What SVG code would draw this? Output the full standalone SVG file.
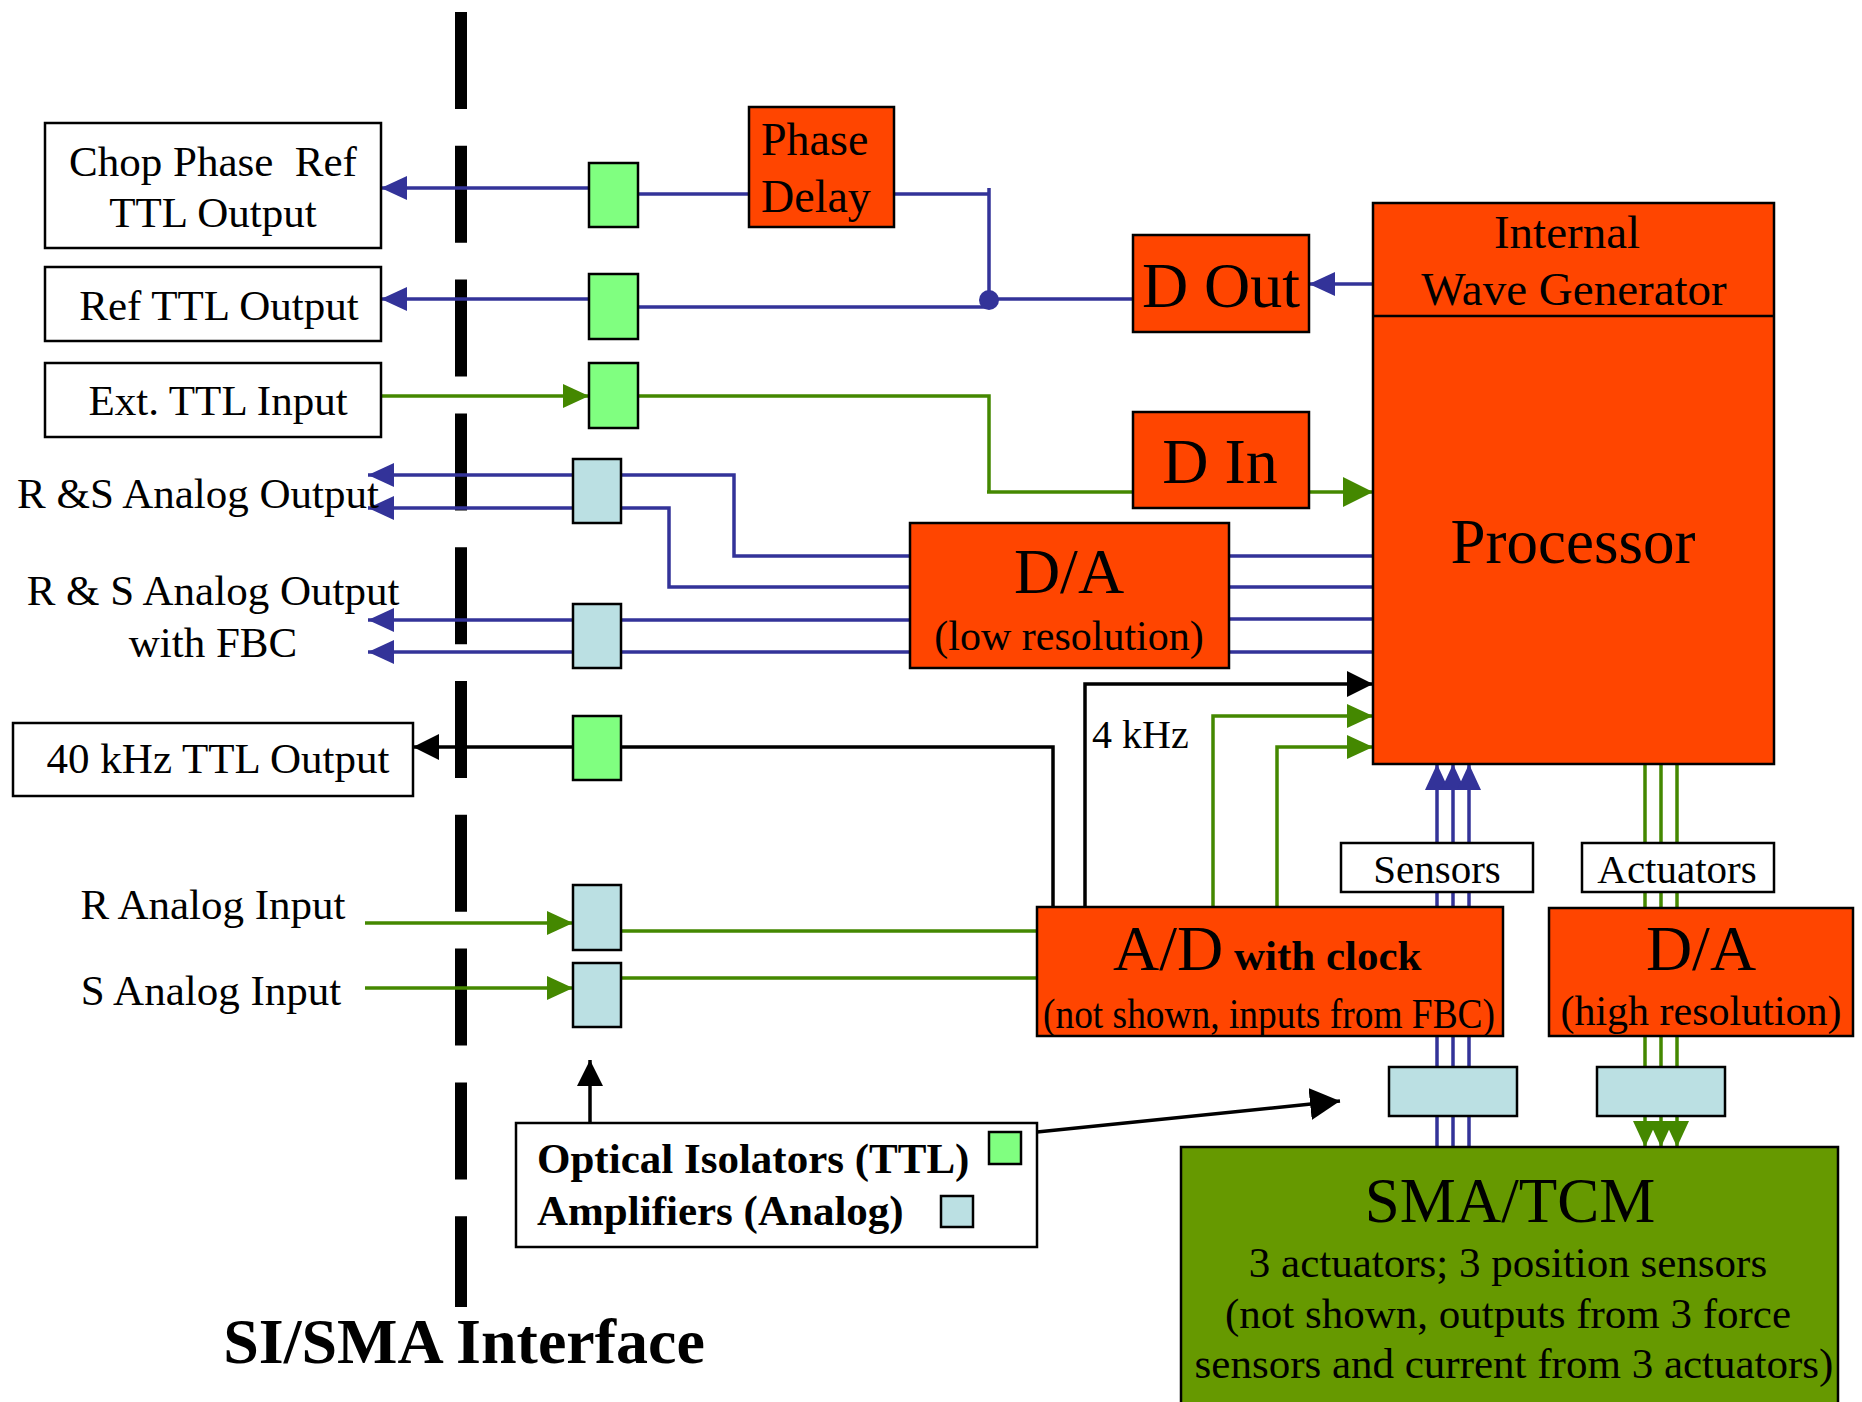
<svg xmlns="http://www.w3.org/2000/svg" width="1862" height="1402" viewBox="0 0 1862 1402">
<style>
text{font-family:"Liberation Serif","Times New Roman",serif;fill:#000;white-space:pre}
.box{fill:#fff;stroke:#000;stroke-width:2.5}
.blk{fill:#FF4500;stroke:#000;stroke-width:2.5}
.iso{fill:#80FF80;stroke:#000;stroke-width:2.5}
.amp{fill:#BBE0E3;stroke:#000;stroke-width:2.5}
.b{fill:none;stroke:#333399;stroke-width:3.5}
.g{fill:none;stroke:#448800;stroke-width:3.5}
.k{fill:none;stroke:#000;stroke-width:3.5}
.t43{font-size:43px}
.t41{font-size:41px}
.t46{font-size:46px}
.t64{font-size:64px}
.mid{text-anchor:middle}
</style>
<defs>
<marker id="ab" markerUnits="userSpaceOnUse" markerWidth="26" markerHeight="24" refX="26" refY="12" orient="auto"><path d="M0,0 L26,12 L0,24 z" fill="#333399"/></marker>
<marker id="ag" markerUnits="userSpaceOnUse" markerWidth="26" markerHeight="24" refX="26" refY="12" orient="auto"><path d="M0,0 L26,12 L0,24 z" fill="#448800"/></marker>
<marker id="agB" markerUnits="userSpaceOnUse" markerWidth="30" markerHeight="30" refX="30" refY="15" orient="auto"><path d="M0,0 L30,15 L0,30 z" fill="#448800"/></marker>
<marker id="ak" markerUnits="userSpaceOnUse" markerWidth="26" markerHeight="26" refX="26" refY="13" orient="auto"><path d="M0,0 L26,13 L0,26 z" fill="#000"/></marker>
<marker id="akB" markerUnits="userSpaceOnUse" markerWidth="30" markerHeight="32" refX="30" refY="16" orient="auto"><path d="M0,0 L30,16 L0,32 z" fill="#000"/></marker>
</defs>
<rect width="1862" height="1402" fill="#fff"/>

<g id="interface-line">
<line x1="461" y1="12" x2="461" y2="1307" stroke="#000" stroke-width="12" stroke-dasharray="97 36.8"/>
<text x="464" y="1363" text-anchor="middle" font-size="64" font-weight="bold">SI/SMA Interface</text>
</g>

<g id="connectors">
<path class="b" d="M589,188 H381" marker-end="url(#ab)"/>
<path class="b" d="M638,194 H749"/>
<path class="b" d="M894,194 H989 M989,188 V299"/>
<path class="b" d="M589,299 H381" marker-end="url(#ab)"/>
<path class="b" d="M638,307 H989"/>
<path class="b" d="M989,299 H1133"/>
<circle cx="989" cy="300" r="10" fill="#333399"/>
<path class="b" d="M1373,284 H1309" marker-end="url(#ab)"/>
<path class="g" d="M381,396 H589" marker-end="url(#ag)"/>
<path class="g" d="M638,396 H989 V492"/>
<path class="g" d="M987,492 H1133" stroke-width="6"/>
<path class="g" d="M1309,492 H1373" stroke-width="6" marker-end="url(#agB)"/>
<path class="b" d="M573,475 H368" marker-end="url(#ab)"/>
<path class="b" d="M573,508 H368" marker-end="url(#ab)"/>
<path class="b" d="M621,475 H734 V556 H910"/>
<path class="b" d="M621,508 H669 V587 H910"/>
<path class="b" d="M573,620 H368" marker-end="url(#ab)"/>
<path class="b" d="M573,652 H368" marker-end="url(#ab)"/>
<path class="b" d="M621,620 H910 M621,652 H910"/>
<path class="b" d="M1229,556 H1373 M1229,587 H1373 M1229,619 H1373 M1229,652 H1373"/>
<path class="k" d="M573,747 H413" marker-end="url(#ak)"/>
<path class="k" d="M621,747 H1053 V908"/>
<path class="k" d="M1085,908 V684 H1373" marker-end="url(#ak)"/>
<path class="g" d="M1213,908 V716 H1373" marker-end="url(#ag)"/>
<path class="g" d="M1277,908 V747 H1373" marker-end="url(#ag)"/>
<path class="g" d="M365,923 H573" marker-end="url(#ag)"/>
<path class="g" d="M365,988 H573" marker-end="url(#ag)"/>
<path class="g" d="M621,931 H1037 M621,978 H1037"/>
<path class="b" d="M1437,908 V764" marker-end="url(#ab)"/>
<path class="b" d="M1453,908 V764" marker-end="url(#ab)"/>
<path class="b" d="M1469,908 V764" marker-end="url(#ab)"/>
<path class="g" d="M1645,764 V908 M1661,764 V908 M1677,764 V908"/>
<path class="b" d="M1437,1036 V1147 M1453,1036 V1147 M1469,1036 V1147"/>
<path class="g" d="M1645,1036 V1116 M1661,1036 V1116 M1677,1036 V1116"/>
<path class="g" d="M1645,1116 V1147" marker-end="url(#ag)"/>
<path class="g" d="M1661,1116 V1147" marker-end="url(#ag)"/>
<path class="g" d="M1677,1116 V1147" marker-end="url(#ag)"/>
<path class="k" d="M590,1123 V1060" stroke-width="3" marker-end="url(#ak)"/>
<path class="k" d="M1037,1132 L1340,1101" stroke-width="5" marker-end="url(#akB)"/>
</g>

<g id="chop-phase-ref">
<rect class="box" x="45" y="123" width="336" height="125"/>
<text class="t43 mid" x="213" y="176">Chop Phase  Ref</text>
<text class="t43 mid" x="213" y="227">TTL Output</text>
</g>
<g id="ref-ttl-output">
<rect class="box" x="45" y="267" width="336" height="74"/>
<text class="t43 mid" x="219" y="320">Ref TTL Output</text>
</g>
<g id="ext-ttl-input">
<rect class="box" x="45" y="363" width="336" height="74"/>
<text class="t43 mid" x="218" y="415">Ext. TTL Input</text>
</g>
<g id="rs-analog-output">
<text class="t43 mid" x="198" y="508">R &amp;S Analog Output</text>
</g>
<g id="rs-analog-output-fbc">
<text class="t43 mid" x="213" y="605">R &amp; S Analog Output</text>
<text class="t43 mid" x="213" y="657">with FBC</text>
</g>
<g id="ttl-40khz-output">
<rect class="box" x="13" y="723" width="400" height="73"/>
<text class="t43 mid" x="218" y="773">40 kHz TTL Output</text>
</g>
<g id="r-analog-input">
<text class="t43 mid" x="213" y="919">R Analog Input</text>
</g>
<g id="s-analog-input">
<text class="t43 mid" x="211" y="1005">S Analog Input</text>
</g>

<g id="isolators">
<rect class="iso" x="589" y="163" width="49" height="64"/>
<rect class="iso" x="589" y="274" width="49" height="65"/>
<rect class="iso" x="589" y="363" width="49" height="65"/>
<rect class="amp" x="573" y="459" width="48" height="64"/>
<rect class="amp" x="573" y="604" width="48" height="64"/>
<rect class="iso" x="573" y="716" width="48" height="64"/>
<rect class="amp" x="573" y="885" width="48" height="65"/>
<rect class="amp" x="573" y="963" width="48" height="64"/>
<rect class="amp" x="1389" y="1067" width="128" height="49"/>
<rect class="amp" x="1597" y="1067" width="128" height="49"/>
</g>

<g id="phase-delay">
<rect class="blk" x="749" y="107" width="145" height="120"/>
<text class="t46" x="761" y="155">Phase</text>
<text class="t46" x="761" y="212">Delay</text>
</g>
<g id="d-out">
<rect class="blk" x="1133" y="235" width="176" height="97"/>
<text class="t64 mid" x="1221" y="307">D Out</text>
</g>
<g id="d-in">
<rect class="blk" x="1133" y="412" width="176" height="96"/>
<text class="t64 mid" x="1220" y="483">D In</text>
</g>
<g id="processor">
<rect class="blk" x="1373" y="203" width="401" height="561"/>
<line x1="1373" y1="316" x2="1774" y2="316" stroke="#000" stroke-width="2.5"/>
<text class="mid" x="1567" y="248" font-size="47">Internal</text>
<text class="mid" x="1574" y="305" font-size="47">Wave Generator</text>
<text class="mid" x="1573" y="563" font-size="63">Processor</text>
</g>
<g id="da-low">
<rect class="blk" x="910" y="523" width="319" height="145"/>
<text class="t64 mid" x="1069" y="593">D/A</text>
<text class="mid" x="1069" y="650" font-size="42">(low resolution)</text>
</g>
<g id="ad-clock">
<rect class="blk" x="1037" y="907" width="466" height="129"/>
<text x="1113" y="970"><tspan font-size="64">A/D</tspan><tspan font-size="43" font-weight="bold"> with clock</tspan></text>
<text x="1043" y="1028" font-size="42" textLength="452" lengthAdjust="spacingAndGlyphs">(not shown, inputs from FBC)</text>
</g>
<g id="da-high">
<rect class="blk" x="1549" y="908" width="304" height="128"/>
<text class="t64 mid" x="1701" y="970">D/A</text>
<text class="mid" x="1701" y="1025" font-size="42">(high resolution)</text>
</g>
<g id="sensors-label">
<rect class="box" x="1341" y="843" width="192" height="49"/>
<text class="t41 mid" x="1437" y="883">Sensors</text>
</g>
<g id="actuators-label">
<rect class="box" x="1582" y="843" width="192" height="49"/>
<text class="t41 mid" x="1677" y="883">Actuators</text>
</g>
<g id="clock-label">
<text x="1092" y="748" font-size="40">4 kHz</text>
</g>
<g id="sma-tcm">
<rect x="1181" y="1147" width="657" height="262" fill="#669900" stroke="#000" stroke-width="2.5"/>
<text class="mid" x="1510" y="1222" font-size="63">SMA/TCM</text>
<text class="mid" x="1508" y="1277" font-size="43">3 actuators; 3 position sensors</text>
<text class="mid" x="1508" y="1328" font-size="43">(not shown, outputs from 3 force</text>
<text class="mid" x="1514" y="1378" font-size="43">sensors and current from 3 actuators)</text>
</g>
<g id="legend">
<rect class="box" x="516" y="1123" width="521" height="124"/>
<text x="537" y="1173" font-size="43" font-weight="bold">Optical Isolators (TTL)</text>
<text x="537" y="1225" font-size="43" font-weight="bold">Amplifiers (Analog)</text>
<rect class="iso" x="989" y="1132" width="32" height="32"/>
<rect class="amp" x="941" y="1196" width="32" height="31"/>
</g>
</svg>
